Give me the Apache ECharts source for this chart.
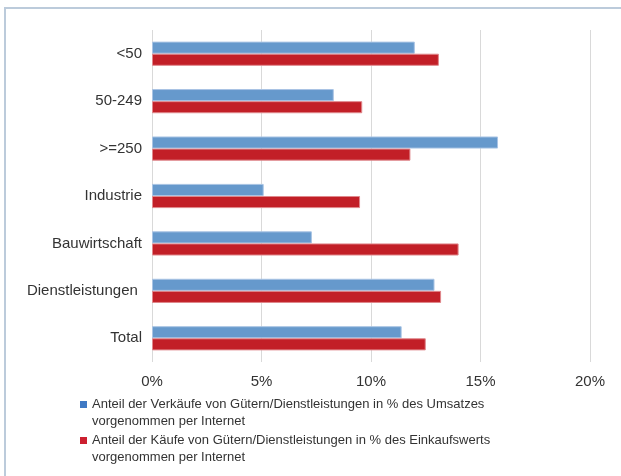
<!DOCTYPE html>
<html>
<head>
<meta charset="utf-8">
<script src="https://cdn.jsdelivr.net/npm/echarts@6/dist/echarts.min.js"></script>
<style>
  html, body { margin: 0; padding: 0; background: #fff; }
  #chart { width: 621px; height: 476px; position: relative; }
  #frame { position: absolute; left: 4px; top: 7px; right: 0; bottom: 0;
           border-left: 2px solid #bccbdb; border-top: 2px solid #bccbdb; pointer-events: none; }
</style>
</head>
<body>
<div id="chart"></div>
<div id="frame"></div>
<script>
// Categories (top to bottom) and the two shares in percent
const categories = ['<50', '50-249', '>=250', 'Industrie', 'Bauwirtschaft', 'Dienstleistungen ', 'Total'];
const salesShare = [12.0, 8.3, 15.8, 5.1, 7.3, 12.9, 11.4];
const purchaseShare = [13.1, 9.6, 11.8, 9.5, 14.0, 13.2, 12.5];
const xTicks = [0, 5, 10, 15, 20];

const salesName = 'Anteil der Verkäufe von Gütern/Dienstleistungen in % des Umsatzes\nvorgenommen per Internet';
const purchaseName = 'Anteil der Käufe von Gütern/Dienstleistungen in % des Einkaufswerts\nvorgenommen per Internet';

const chart = echarts.init(document.getElementById('chart'), null, { renderer: 'canvas' });
const font = 'Liberation Sans, Arial, sans-serif';

chart.setOption({
  animation: false,
  textStyle: { fontFamily: font },
  grid: { left: 152, right: 31, top: 30, bottom: 114 },
  xAxis: {
    type: 'value',
    min: xTicks[0],
    max: xTicks[xTicks.length - 1],
    interval: 5,
    axisLine: { show: false },
    axisTick: { show: false },
    splitLine: { show: true, lineStyle: { color: '#d9d9d9', width: 1 } },
    axisLabel: { formatter: v => v + '%', color: '#333', fontSize: 15, margin: 12, fontFamily: font }
  },
  yAxis: {
    type: 'category',
    data: categories,
    inverse: true,
    axisLine: { show: false },
    axisTick: { show: false },
    axisLabel: { color: '#333', fontSize: 15, margin: 10, fontFamily: font }
  },
  legend: {
    orient: 'vertical',
    left: 80,
    top: 379,
    padding: 0,
    itemWidth: 7,
    itemHeight: 7,
    itemGap: -15,
    icon: 'rect',
    // a leading blank line keeps the marker level with the first text line
    formatter: name => '\n' + name,
    textStyle: { fontSize: 13, color: '#333', lineHeight: 17, fontFamily: font },
    data: [
      { name: salesName, itemStyle: { color: '#3f79c4', borderWidth: 0 } },
      { name: purchaseName, itemStyle: { color: '#cc2030', borderWidth: 0 } }
    ]
  },
  series: [
    {
      name: salesName,
      type: 'bar',
      data: salesShare,
      barGap: '0%',
      barCategoryGap: '49%',
      itemStyle: { color: '#6699cc', borderColor: '#a9c4e4', borderWidth: 1 }
    },
    {
      name: purchaseName,
      type: 'bar',
      data: purchaseShare,
      itemStyle: { color: '#c21f27', borderColor: '#e0888c', borderWidth: 1 }
    }
  ]
});
</script>
</body>
</html>
